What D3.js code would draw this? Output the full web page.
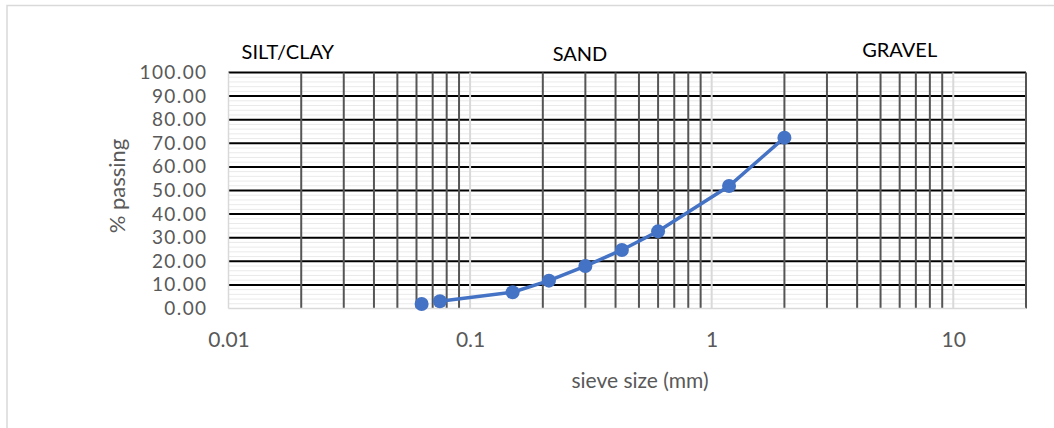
<!DOCTYPE html>
<meta charset="utf-8">
<style>
body { margin: 0; background: #fff; }
text { font-family: Lato, "Open Sans", sans-serif; }
.tick text { fill: #595959; }
</style>
<body>
<script src="https://d3js.org/d3.v7.min.js"></script>
<script>

// sieve data (mm, % passing)
var sieve = [0.063, 0.075, 0.15, 0.212, 0.3, 0.425, 0.6, 1.18, 2];
var passing = [1.9, 3.1, 6.9, 11.8, 18.0, 24.8, 32.7, 51.9, 72.4];
var xTicks = [0.01, 0.1, 1, 10];
var yTicks = [0, 10, 20, 30, 40, 50, 60, 70, 80, 90, 100];
var zones = [{name: "SILT/CLAY", at: 0.0176}, {name: "SAND", at: 0.285}, {name: "GRAVEL", at: 6.0}];

var margin = {top: 72.5, left: 228.5},
    width = 1026 - 228.5,
    height = 308.5 - 72.5;

var x = d3.scaleLog().domain([0.01, 20]).range([0, width]);
var y = d3.scaleLinear().domain([0, 100]).range([height, 0]);

var svg = d3.select("body").append("svg")
    .attr("width", 1054)
    .attr("height", 428);

// chart border (only top/left show in the shot)
svg.append("rect")
    .attr("x", 7).attr("y", 5.5)
    .attr("width", 1100).attr("height", 500)
    .attr("fill", "none")
    .attr("stroke", "#d9d9d9")
    .attr("stroke-width", 1.5);

var g = svg.append("g")
    .attr("transform", "translate(" + margin.left + "," + margin.top + ")");

// minor horizontal lines every 2
var yMinor = d3.range(0, 101, 2).filter(function(d) { return d % 10 != 0; });
g.selectAll(".hminor").data(yMinor).enter().append("line")
    .attr("x1", 0).attr("x2", width)
    .attr("y1", function(d) { return y(d); })
    .attr("y2", function(d) { return y(d); })
    .attr("stroke", "#eaeaea")
    .attr("stroke-width", 1);

// major horizontal lines
g.selectAll(".hmajor").data(yTicks.slice(1)).enter().append("line")
    .attr("x1", 0).attr("x2", width)
    .attr("y1", function(d) { return y(d); })
    .attr("y2", function(d) { return y(d); })
    .attr("stroke", "#000")
    .attr("stroke-width", 2);

// minor vertical lines (2..9 of each decade)
var xMinor = [];
[0.01, 0.1, 1].forEach(function(dec) {
  for (var k = 2; k <= 9; k++) xMinor.push(dec * k);
});
xMinor.push(20);
g.selectAll(".vminor").data(xMinor).enter().append("line")
    .attr("x1", function(d) { return x(d); })
    .attr("x2", function(d) { return x(d); })
    .attr("y1", 0).attr("y2", height)
    .attr("stroke", "#555")
    .attr("stroke-width", 2);

// decade lines (light gray)
g.selectAll(".vmajor").data([0.1, 1, 10]).enter().append("line")
    .attr("x1", function(d) { return x(d); })
    .attr("x2", function(d) { return x(d); })
    .attr("y1", 0).attr("y2", height)
    .attr("stroke", "#d9d9d9")
    .attr("stroke-width", 2);

// axis lines
g.append("line").attr("x1", 0).attr("x2", 0).attr("y1", 0).attr("y2", height)
    .attr("stroke", "#d9d9d9").attr("stroke-width", 1.5);
g.append("line").attr("x1", 0).attr("x2", width).attr("y1", height).attr("y2", height)
    .attr("stroke", "#d9d9d9").attr("stroke-width", 1.5);

// axes (labels only)
var xAxis = g.append("g")
    .attr("transform", "translate(0," + height + ")")
    .call(d3.axisBottom(x).tickValues(xTicks).tickFormat(d3.format("~g")).tickSize(0).tickPadding(24));
xAxis.select(".domain").remove();
xAxis.selectAll("text").style("font-size", "21px");

var yAxis = g.append("g")
    .call(d3.axisLeft(y).tickValues(yTicks).tickFormat(d3.format(".2f")).tickSize(0).tickPadding(21));
yAxis.select(".domain").remove();
yAxis.selectAll("text").style("font-size", "19px").style("letter-spacing", "1.4px");

// axis titles
svg.append("text")
    .attr("x", 640).attr("y", 388)
    .attr("text-anchor", "middle")
    .attr("fill", "#595959")
    .style("font-size", "21px")
    .text("sieve size (mm)");

svg.append("text")
    .attr("transform", "translate(125,186) rotate(-90)")
    .attr("text-anchor", "middle")
    .attr("fill", "#595959")
    .style("font-size", "22px")
    .text("% passing");

// zone labels
svg.selectAll(".zone").data(zones).enter().append("text")
    .attr("x", function(d) { return margin.left + x(d.at); })
    .attr("y", function(d, i) { return [59, 61, 57][i]; })
    .attr("text-anchor", "middle")
    .attr("fill", "#000")
    .style("font-size", "20px")
    .text(function(d) { return d.name; });

// grading curve (line starts at 2nd point, as in the source)
var pts = sieve.map(function(s, i) { return {s: s, p: passing[i]}; });
var line = d3.line()
    .x(function(d) { return x(d.s); })
    .y(function(d) { return y(d.p); });

g.append("path")
    .datum(pts.slice(1))
    .attr("d", line)
    .attr("fill", "none")
    .attr("stroke", "#4472c4")
    .attr("stroke-width", 3.5);

g.selectAll(".dot").data(pts).enter().append("circle")
    .attr("cx", function(d) { return x(d.s); })
    .attr("cy", function(d) { return y(d.p); })
    .attr("r", 7)
    .attr("fill", "#4472c4");

</script>
</body>
